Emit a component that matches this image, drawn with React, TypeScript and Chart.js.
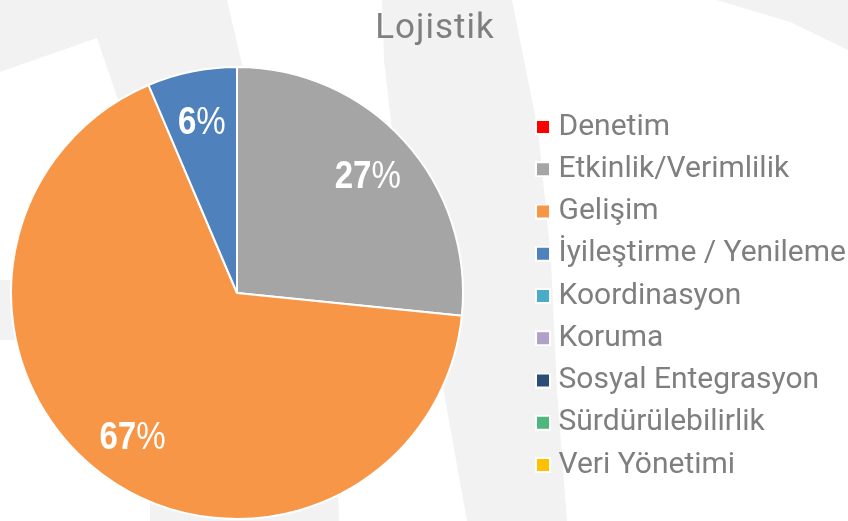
import React, { useEffect, useRef } from 'react';
import { Chart, registerables } from 'chart.js';

Chart.register(...registerables);

// ---- data ----
const titleText = 'Lojistik';
const categories = [
  'Denetim',
  'Etkinlik/Verimlilik',
  'Gelişim',
  'İyileştirme / Yenileme',
  'Koordinasyon',
  'Koruma',
  'Sosyal Entegrasyon',
  'Sürdürülebilirlik',
  'Veri Yönetimi',
];
const shares = [0, 26.6, 67.0, 6.4, 0, 0, 0, 0, 0];
const sliceColors = [
  '#FF0000',
  '#A5A5A5',
  '#F79646',
  '#4F81BD',
  '#4BACC6',
  '#B1A0C7',
  '#2C4D75',
  '#4EB77B',
  '#FFC000',
];

// ---- styling / layout constants ----
const W = 848;
const H = 521;
const TEXT_GREY = '#7f7f7f';
const FONT = 'Roboto, "Noto Sans", sans-serif';
const LABEL_FONT = '"Liberation Sans", Arial, sans-serif';
const LEGEND_W = 374;
const LEGEND_ITEM_X = 542.5;
const LEGEND_PAD = 12.25;
const LEGEND_DY = 36;
const TITLE_DX = 11;
const WATERMARK = '#f2f2f2';
const watermarkShapes: number[][][] = [
  [[0, 0], [227, 0], [262, 150], [135, 150], [97, 38], [0, 72]],
  [[382, 0], [512, 0], [538, 130], [551, 260], [557, 390], [567, 521], [467, 521], [444, 393], [400, 200], [384, 60]],
  [[717, 0], [848, 0], [848, 50], [790, 22]],
  [[0, 280], [40, 280], [40, 340], [0, 340]],
  [[150, 470], [337, 470], [339, 521], [150, 521]],
];

function makeBox(color: string): HTMLCanvasElement {
  const c = document.createElement('canvas');
  c.width = 16;
  c.height = 16;
  const g = c.getContext('2d')!;
  g.fillStyle = '#ffffff';
  g.fillRect(0, 0, 16, 16);
  g.fillStyle = color;
  g.fillRect(2, 2, 12, 12);
  return c;
}

const backgroundPlugin = {
  id: 'watermarkBg',
  beforeDraw(chart: any) {
    const ctx = chart.ctx;
    ctx.save();
    ctx.fillStyle = '#ffffff';
    ctx.fillRect(0, 0, chart.width, chart.height);
    ctx.fillStyle = WATERMARK;
    watermarkShapes.forEach((pts) => {
      ctx.beginPath();
      pts.forEach(([x, y], i) => (i ? ctx.lineTo(x, y) : ctx.moveTo(x, y)));
      ctx.closePath();
      ctx.fill();
    });
    ctx.restore();
  },
};

const layoutNudge = {
  id: 'layoutNudge',
  beforeLayout(chart: any) {
    const lg = chart.legend;
    if (lg && !lg.__patched) {
      const fit = lg.fit.bind(lg);
      lg.fit = function () {
        fit();
        this.width = LEGEND_W;
      };
      lg.__patched = true;
    }
    const t = chart.titleBlock;
    if (t && !t.__patched) {
      const draw = t.draw.bind(t);
      t.draw = function (...args: any[]) {
        const ctx = this.ctx;
        ctx.save();
        (ctx as any).letterSpacing = '1px';
        draw(...args);
        ctx.restore();
      };
      t.__patched = true;
    }
  },
  afterLayout(chart: any) {
    const lg = chart.legend;
    if (lg) {
      const dx = LEGEND_ITEM_X - LEGEND_PAD - lg.left;
      lg.left += dx;
      lg.right += dx;
      lg.top += LEGEND_DY;
      lg.bottom += LEGEND_DY;
    }
    const t = chart.titleBlock;
    if (t) {
      t.left += TITLE_DX;
      t.right += TITLE_DX;
    }
  },
};

const sliceLabels = {
  id: 'sliceLabels',
  afterDatasetsDraw(chart: any) {
    const ctx = chart.ctx;
    const meta = chart.getDatasetMeta(0);
    const values: number[] = chart.data.datasets[0].data;
    const total = values.reduce((a, b) => a + b, 0);
    const fs = 38;
    const squeeze = 0.87;
    meta.data.forEach((arc: any, i: number) => {
      const v = values[i];
      if (!v) return;
      const { x, y, startAngle, endAngle, outerRadius } = arc.getProps(
        ['x', 'y', 'startAngle', 'endAngle', 'outerRadius'],
        true
      );
      const mid = (startAngle + endAngle) / 2;
      const r = outerRadius * 0.78;
      const cx = x + Math.cos(mid) * r;
      const cy = y + Math.sin(mid) * r;
      const num = String(Math.round((v / total) * 100));
      ctx.save();
      ctx.fillStyle = '#ffffff';
      ctx.textBaseline = 'alphabetic';
      ctx.textAlign = 'left';
      const boldFont = `bold ${fs}px ${LABEL_FONT}`;
      const normFont = `normal ${fs}px ${LABEL_FONT}`;
      ctx.font = boldFont;
      const w1 = ctx.measureText(num).width;
      ctx.font = normFont;
      const w2 = ctx.measureText('%').width;
      ctx.translate(cx, cy + fs * 0.36);
      ctx.scale(squeeze, 1);
      const sx = -(w1 + w2) / 2;
      ctx.font = boldFont;
      ctx.fillText(num, sx, 0);
      ctx.font = normFont;
      ctx.fillText('%', sx + w1, 0);
      ctx.restore();
    });
  },
};

export default function App() {
  const canvasRef = useRef<HTMLCanvasElement | null>(null);

  useEffect(() => {
    document.body.style.margin = '0';
    const canvas = canvasRef.current;
    if (!canvas) return;
    const boxes = sliceColors.map(makeBox);
    const defaultGen = (Chart as any).overrides.doughnut.plugins.legend.labels.generateLabels;

    const chart = new Chart(canvas, {
      type: 'pie',
      data: {
        labels: categories,
        datasets: [
          {
            data: shares,
            backgroundColor: sliceColors,
            borderColor: '#ffffff',
            borderWidth: 2,
          },
        ],
      },
      options: {
        responsive: false,
        animation: false,
        layout: { padding: { top: 0, left: 0, right: 0, bottom: 1 } },
        plugins: {
          tooltip: { enabled: false },
          title: {
            display: true,
            text: titleText,
            color: TEXT_GREY,
            font: { family: FONT, size: 35, weight: 'normal' },
            padding: { top: 8, bottom: 16 },
          },
          legend: {
            display: true,
            position: 'right',
            labels: {
              usePointStyle: true,
              boxWidth: 1,
              boxHeight: 12,
              padding: LEGEND_PAD,
              color: TEXT_GREY,
              font: { family: FONT, size: 30 },
              generateLabels(ch: any) {
                const items = defaultGen(ch);
                return items.map((it: any, i: number) => ({
                  ...it,
                  pointStyle: boxes[i],
                  hidden: false,
                }));
              },
            },
          },
        },
      } as any,
      plugins: [backgroundPlugin, layoutNudge, sliceLabels],
    });

    return () => {
      chart.destroy();
    };
  }, []);

  return (
    <div style={{ width: W, height: H }}>
      <canvas ref={canvasRef} width={W} height={H} style={{ display: 'block' }} />
    </div>
  );
}
